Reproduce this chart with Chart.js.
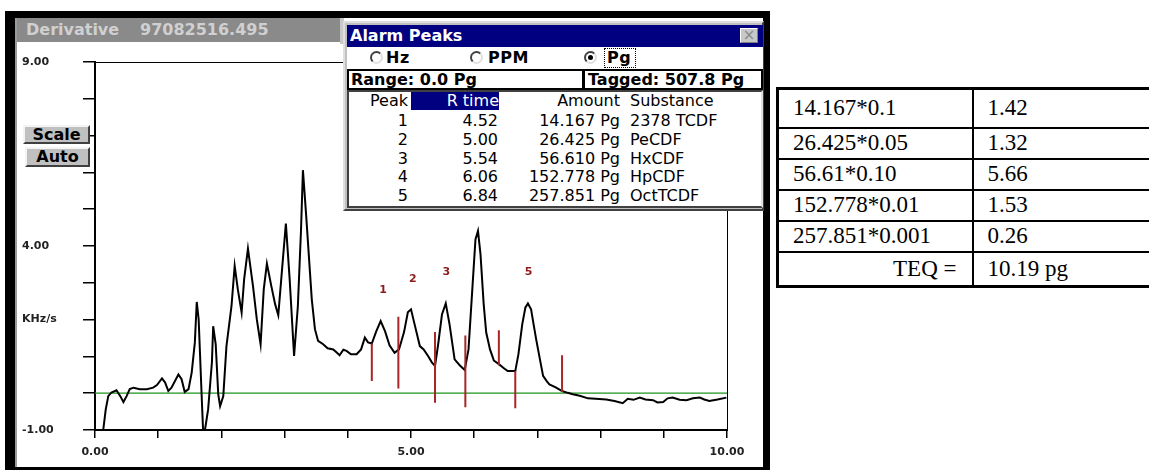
<!DOCTYPE html>
<html>
<head>
<meta charset="utf-8">
<title>Derivative 97082516.495</title>
<script src="https://cdn.jsdelivr.net/npm/chart.js@4.4.1/dist/chart.umd.min.js"></script>
<style>
  * { box-sizing: border-box; }
  body { margin: 0; width: 1149px; height: 470px; position: relative; overflow: hidden; background: #fff; font-family: "DejaVu Sans", sans-serif; }
  .abs { position: absolute; }
  #frame { left: 5px; top: 11px; width: 765px; height: 459px; background: #000; }
  #client { left: 15px; top: 18px; width: 748px; height: 449px; background: #fff; border-left: 2px solid #9a9a9a; }
  #titlebar { left: 17px; top: 18px; width: 323px; height: 24px; background: #8a8a8a; color: #d0d0d0; font: bold 16px "DejaVu Sans"; line-height: 24px; }
  #titlebar span { position: absolute; top: 0; }
  #gap { left: 340px; top: 18px; width: 4px; height: 26px; background: #c8c8c8; }
  #chartBox { left: 15px; top: 42px; width: 747px; height: 424px; }
  .btn { background: #c0c0c0; border: 2px solid; border-color: #f4f4f4 #404040 #404040 #f4f4f4; font: bold 16px "DejaVu Sans"; text-align: center; line-height: 15px; color: #000; }
  #scaleBtn { left: 23px; top: 125px; width: 67px; height: 19px; }
  #autoBtn { left: 25px; top: 147px; width: 65px; height: 20px; }

  #dlg { left: 343px; top: 21px; width: 421px; height: 190px; background: #c0c0c0; border: 2px solid; border-color: #dfdfdf #404040 #404040 #dfdfdf; }
  #dlgTitle { left: 347px; top: 25px; width: 416px; height: 22px; background: #000080; color: #fff; font: bold 16px "DejaVu Sans"; line-height: 22px; padding-left: 3px; }
  #closeBtn { left: 740px; top: 28px; width: 18px; height: 15px; background: #c8c8c8; border: 1px solid; border-color: #fff #808080 #808080 #fff; color: #8a8a8a; font: 15px "DejaVu Sans"; line-height: 12px; text-align: center; }
  #radioRow { left: 347px; top: 47px; width: 416px; height: 22px; background: #fff; }
  .radio { width: 13px; height: 13px; border-radius: 50%; border: 2px solid; border-color: #404040 #e0e0e0 #e0e0e0 #404040; background: #fff; }
  .dot { width: 5px; height: 5px; border-radius: 50%; background: #000; }
  .opt { font: bold 16px "DejaVu Sans"; line-height: 18px; color: #000; letter-spacing: 0.5px; }
  #focus { left: 604px; top: 48px; width: 32px; height: 20px; border: 1px dotted #000; }
  .box { height: 21px; background: #fff; border: 2px solid #000; font: bold 16px "DejaVu Sans"; line-height: 17px; padding-left: 2px; white-space: nowrap; }
  #rangeBox { left: 347px; top: 69px; width: 237px; }
  #taggedBox { left: 583px; top: 69px; width: 180px; padding-left: 3px; }
  #listBox { left: 347px; top: 90px; width: 416px; height: 118px; background: #fff; border: 2px solid; border-color: #404040 #dfdfdf #404040 #404040; }
  .cell { font: 16px "DejaVu Sans"; line-height: 18px; height: 18px; color: #000; white-space: nowrap; }
  .right { text-align: right; }
  .hl { background: #000080; color: #fff; }

  #teq { position: absolute; left: 776px; top: 87px; width: 380px; border-collapse: collapse; table-layout: fixed; border: 3px solid #000; font: 23px "Liberation Serif", serif; color: #000; }
  #teq td { border: 2px solid #000; padding: 0 0 0 14px; vertical-align: middle; white-space: nowrap; }
  #teq td.lbl { text-align: right; padding: 0 15px 0 0; }
</style>
</head>
<body>
<div id="frame" class="abs"></div>
<div id="client" class="abs"></div>
<div id="titlebar" class="abs"><span style="left:9px">Derivative</span><span style="left:123px">97082516.495</span></div>
<div id="gap" class="abs"></div>
<div id="chartBox" class="abs"><canvas id="myChart" width="747" height="424"></canvas></div>
<div id="scaleBtn" class="abs btn">Scale</div>
<div id="autoBtn" class="abs btn">Auto</div>

<div id="dlg" class="abs"></div>
<div id="dlgTitle" class="abs">Alarm Peaks</div>
<div id="closeBtn" class="abs">×</div>
<div id="radioRow" class="abs"></div>
<div class="abs radio" style="left:370px;top:51px"></div>
<div class="abs opt" style="left:386px;top:49px">Hz</div>
<div class="abs radio" style="left:470px;top:51px"></div>
<div class="abs opt" style="left:488px;top:49px">PPM</div>
<div class="abs radio" style="left:584px;top:51px"></div>
<div class="abs dot" style="left:588px;top:55px"></div>
<div id="focus" class="abs"></div>
<div class="abs opt" style="left:607px;top:49px">Pg</div>
<div id="rangeBox" class="abs box">Range: 0.0 Pg</div>
<div id="taggedBox" class="abs box">Tagged: 507.8 Pg</div>
<div id="listBox" class="abs"></div>
<div id="peakList"></div>

<table id="teq"></table>

<script>
'use strict';

// chart data

let traceTimes = [
  0.10, 0.13, 0.17, 0.21, 0.26, 0.34, 0.40, 0.45, 0.50, 0.55,
  0.61, 0.71, 0.82, 0.92, 0.98, 1.06, 1.11, 1.16, 1.21, 1.32,
  1.37, 1.42, 1.48, 1.53, 1.58, 1.61, 1.64, 1.69, 1.71, 1.74,
  1.79, 1.85, 1.87, 1.91, 1.95, 1.98, 2.03, 2.08, 2.16, 2.21,
  2.26, 2.32, 2.36, 2.42, 2.50, 2.56, 2.62, 2.67, 2.72, 2.79,
  2.85, 2.90, 2.96, 3.02, 3.08, 3.15, 3.21, 3.26, 3.29, 3.34,
  3.43, 3.48, 3.53, 3.61, 3.68, 3.77, 3.82, 3.87, 3.93, 3.98,
  4.05, 4.14, 4.21, 4.27, 4.32, 4.38, 4.45, 4.52, 4.59, 4.66,
  4.74, 4.81, 4.89, 4.95, 5.00, 5.06, 5.14, 5.20, 5.27, 5.33,
  5.38, 5.43, 5.49, 5.55, 5.61, 5.69, 5.77, 5.85, 5.91, 5.97,
  6.02, 6.06, 6.10, 6.15, 6.19, 6.25, 6.31, 6.39, 6.47, 6.53,
  6.65, 6.70, 6.76, 6.81, 6.85, 6.90, 6.94, 6.98, 7.04, 7.09,
  7.15, 7.19, 7.29, 7.39, 7.48, 7.56, 7.67, 7.80, 7.92, 8.09,
  8.22, 8.35, 8.43, 8.52, 8.62, 8.71, 8.83, 8.90, 8.99, 9.06,
  9.14, 9.25, 9.36, 9.46, 9.57, 9.64, 9.72, 9.85, 9.99
];
let traceValues = [
  -1.00, -1.00, -0.44, -0.08, 0.02, 0.08, -0.08, -0.24, -0.08, 0.11,
  0.15, 0.11, 0.11, 0.15, 0.22, 0.40, 0.29, 0.06, 0.15, 0.51,
  0.38, 0.03, 0.11, 0.56, 1.38, 2.48, 2.01, -0.17, -1.00, -1.00,
  -0.44, 0.84, 1.82, 1.33, -0.03, -0.35, -0.08, 1.28, 2.37, 3.46,
  2.82, 2.19, 3.10, 3.93, 2.91, 2.01, 1.33, 2.82, 3.52, 2.91,
  2.42, 2.12, 3.37, 4.61, 3.10, 1.01, 2.37, 4.45, 6.06, 4.86,
  2.55, 1.74, 1.42, 1.33, 1.22, 1.19, 1.11, 1.03, 1.18, 1.15,
  1.06, 1.06, 1.19, 1.51, 1.38, 1.35, 1.68, 1.96, 1.68, 1.30,
  1.10, 1.19, 1.66, 2.20, 2.28, 1.85, 1.28, 1.19, 1.01, 0.84,
  0.74, 1.33, 2.14, 2.44, 1.87, 0.92, 0.76, 0.63, 1.19, 2.82,
  4.18, 4.41, 3.77, 2.42, 1.65, 1.19, 0.89, 0.79, 0.68, 0.60,
  0.60, 1.06, 1.87, 2.33, 2.44, 2.28, 1.87, 1.47, 0.92, 0.47,
  0.32, 0.24, 0.16, 0.06, 0.01, -0.03, -0.07, -0.14, -0.15, -0.17,
  -0.21, -0.27, -0.15, -0.18, -0.12, -0.17, -0.19, -0.25, -0.24, -0.14,
  -0.12, -0.18, -0.19, -0.14, -0.12, -0.17, -0.21, -0.17, -0.12
];

// green baseline
let baselineTimes = [0, 10];
let baselineValues = [0, 0];

// red tag markers (time, top value, bottom value)
let markerTimes = [4.38, 4.80, 5.38, 5.86, 6.39, 6.65, 7.39];
let markerTops = [1.35, 2.08, 1.66, 1.57, 1.71, 0.60, 1.03];
let markerBottoms = [0.33, 0.13, -0.26, -0.38, 0.76, -0.41, 0.03];

// peak numbers written above the peaks
let peakNames = ['1', '2', '3', '5'];
let peakLabelTimes = [4.56, 5.03, 5.56, 6.86];
let peakLabelValues = [2.80, 3.10, 3.28, 3.28];

// axis tick labels
let xLabelTicks = [0, 5, 10];
let yLabelTicks = [-1, 4, 9];
let unitTick = 2;
let unitText = 'KHz/s';

// alarm peaks list
let peakIds = ['1', '2', '3', '4', '5'];
let retentionTimes = ['4.52', '5.00', '5.54', '6.06', '6.84'];
let peakAmounts = ['14.167 Pg', '26.425 Pg', '56.610 Pg', '152.778 Pg', '257.851 Pg'];
let substances = ['2378 TCDF', 'PeCDF', 'HxCDF', 'HpCDF', 'OctTCDF'];

// TEQ table
let teqExpressions = ['14.167*0.1', '26.425*0.05', '56.61*0.10', '152.778*0.01', '257.851*0.001'];
let teqResults = ['1.42', '1.32', '5.66', '1.53', '0.26'];
let teqTotalLabel = 'TEQ =';
let teqTotal = '10.19 pg';

// build the alarm peaks list

function addCell(text, left, top, width, extraClass) {
  let div = document.createElement('div');
  div.className = 'abs cell ' + (extraClass || '');
  div.style.left = left + 'px';
  div.style.top = top + 'px';
  div.style.width = width + 'px';
  div.textContent = text;
  document.getElementById('peakList').appendChild(div);
}

function renderPeakList() {
  addCell('Peak', 350, 92, 58, 'right');
  addCell('R time', 411, 92, 88, 'right hl');
  addCell('Amount', 520, 92, 100, 'right');
  addCell('Substance', 630, 92, 120, '');
  for (let i = 0; i < peakIds.length; i++) {
    let top = 112 + i * 18.75;
    addCell(peakIds[i], 350, top, 58, 'right');
    addCell(retentionTimes[i], 411, top, 87, 'right');
    addCell(peakAmounts[i], 500, top, 120, 'right');
    addCell(substances[i], 630, top, 120, '');
  }
}

function renderTeqTable() {
  let table = document.getElementById('teq');
  let colgroup = document.createElement('colgroup');
  colgroup.innerHTML = '<col style="width:195px"><col>';
  table.appendChild(colgroup);
  let rowHeights = [39, 31, 31, 31, 31, 35];
  for (let i = 0; i < teqExpressions.length; i++) {
    let tr = document.createElement('tr');
    tr.style.height = rowHeights[i] + 'px';
    tr.innerHTML = '<td></td><td></td>';
    tr.children[0].textContent = teqExpressions[i];
    tr.children[1].textContent = teqResults[i];
    table.appendChild(tr);
  }
  let last = document.createElement('tr');
  last.style.height = rowHeights[5] + 'px';
  last.innerHTML = '<td class="lbl"></td><td></td>';
  last.children[0].textContent = teqTotalLabel;
  last.children[1].textContent = teqTotal;
  table.appendChild(last);
}

// chart

const peakLabelPlugin = {
  id: 'peakLabels',
  afterDatasetsDraw(chart) {
    const ctx = chart.ctx;
    const x = chart.scales.x;
    const y = chart.scales.y;
    ctx.save();
    ctx.font = 'bold 11px "DejaVu Sans"';
    ctx.fillStyle = '#8e1b1b';
    ctx.textAlign = 'center';
    ctx.textBaseline = 'middle';
    for (let i = 0; i < peakNames.length; i++) {
      ctx.fillText(peakNames[i], x.getPixelForValue(peakLabelTimes[i]), y.getPixelForValue(peakLabelValues[i]));
    }
    ctx.restore();
  }
};

function renderChart() {
  const ctx = document.getElementById('myChart').getContext('2d');

  let tracePoints = traceTimes.map((t, i) => ({ x: t, y: traceValues[i] }));
  let baselinePoints = baselineTimes.map((t, i) => ({ x: t, y: baselineValues[i] }));
  let markerPoints = [];
  for (let i = 0; i < markerTimes.length; i++) {
    markerPoints.push({ x: markerTimes[i], y: markerTops[i] });
    markerPoints.push({ x: markerTimes[i], y: markerBottoms[i] });
    markerPoints.push({ x: markerTimes[i], y: null });
  }

  const tickFont = { family: 'DejaVu Sans', size: 11, weight: 'bold' };

  new Chart(ctx, {
    type: 'line',
    data: {
      datasets: [
        { data: markerPoints, borderColor: '#a82626', borderWidth: 2, pointRadius: 0, spanGaps: false, order: 0 },
        { data: tracePoints, borderColor: '#000', borderWidth: 2, pointRadius: 0, tension: 0, order: 1 },
        { data: baselinePoints, borderColor: '#1c941c', borderWidth: 1.2, pointRadius: 0, order: 2 }
      ]
    },
    options: {
      responsive: false,
      animation: false,
      devicePixelRatio: 1,
      layout: { padding: { left: 7, top: 20, right: 35, bottom: 0 } },
      plugins: { legend: { display: false }, tooltip: { enabled: false } },
      scales: {
        x: {
          type: 'linear', position: 'bottom', min: 0, max: 10,
          afterFit: (scale) => { scale.height = 36; },
          border: { display: true, color: '#000', width: 2 },
          grid: { drawOnChartArea: false, color: '#000', lineWidth: 1.5, tickLength: 8 },
          ticks: {
            stepSize: 1, autoSkip: false, maxRotation: 0, padding: 8,
            font: tickFont, color: '#222',
            callback: (value) => xLabelTicks.includes(value) ? value.toFixed(2) : ''
          }
        },
        y: {
          type: 'linear', position: 'left', min: -1, max: 9,
          afterFit: (scale) => { scale.width = 73; },
          border: { display: true, color: '#000', width: 2 },
          grid: { drawOnChartArea: false, color: '#000', lineWidth: 1.5, tickLength: 12 },
          ticks: {
            stepSize: 1, autoSkip: false, crossAlign: 'far',
            font: tickFont, color: '#222',
            callback: (value) => {
              if (value === unitTick) return unitText;
              return yLabelTicks.includes(value) ? value.toFixed(2) : '';
            }
          }
        },
        xTop: {
          type: 'linear', position: 'top', display: true,
          afterFit: (scale) => { scale.height = 0; },
          border: { display: true, color: '#000', width: 1 },
          grid: { display: false, drawTicks: false },
          ticks: { display: false }
        },
        yRight: {
          type: 'linear', position: 'right', display: true,
          afterFit: (scale) => { scale.width = 0; },
          border: { display: true, color: '#000', width: 1 },
          grid: { display: false, drawTicks: false },
          ticks: { display: false }
        }
      }
    },
    plugins: [peakLabelPlugin]
  });
}

// executable code

renderPeakList();
renderTeqTable();
renderChart();
</script>
</body>
</html>
